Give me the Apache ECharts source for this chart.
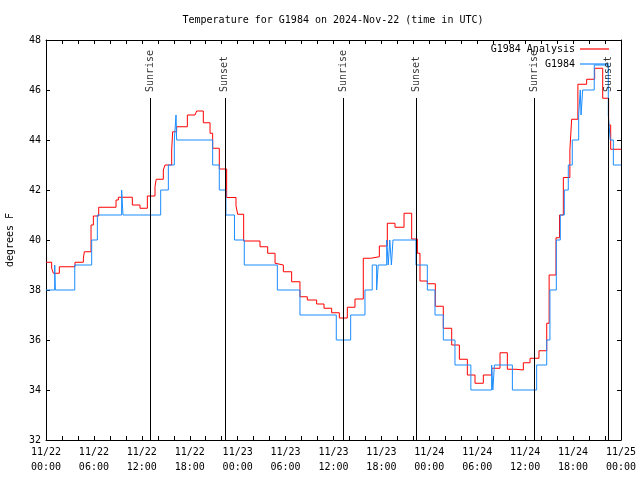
<!DOCTYPE html>
<html>
<head>
<meta charset="utf-8">
<script src="https://cdn.jsdelivr.net/npm/echarts@6/dist/echarts.min.js"></script>
<style>html,body{margin:0;padding:0;background:#fff;}#c{width:640px;height:480px;}</style>
</head>
<body>
<div id="c"></div>
<script>
// Time in hours since 2024-11-22 00:00 UTC
const xTickLabels = ['11/22\n00:00','11/22\n06:00','11/22\n12:00','11/22\n18:00','11/23\n00:00','11/23\n06:00','11/23\n12:00','11/23\n18:00','11/24\n00:00','11/24\n06:00','11/24\n12:00','11/24\n18:00','11/25\n00:00'];

const redTimes = [0,0.71,0.92,1.67,3.63,4.68,4.8,5.64,5.93,6.6,8.77,9.06,10.81,11.77,12.69,13.65,13.8,14.69,14.9,15.74,15.86,16.36,17.7,18.66,18.87,19.7,20.54,20.87,21.7,22.62,23.79,24.0,24.75,26.8,27.76,28.68,28.89,29.72,30.76,31.8,32.72,33.89,34.81,35.77,36.73,37.73,38.69,39.73,40.66,41.74,42.74,43.7,44.83,45.79,46.5,46.83,47.75,48.75,49.75,50.8,51.76,52.76,53.72,54.76,55.81,56.85,57.77,58.85,59.77,60.61,61.73,62.7,63.0,63.86,64.3,64.78,65.6,65.82,66.6,67.7,68.7,69.71,70.45,70.71,72];
const redTemps = [39.11,38.87,38.67,38.93,39.11,39.27,39.53,40.6,40.96,41.31,41.6,41.71,41.4,41.27,41.76,42.13,42.43,42.8,43.0,43.6,44.33,44.53,45.0,45.07,45.16,44.69,44.27,43.67,42.84,41.7,41.37,41.03,39.96,39.73,39.47,39.07,39.0,38.73,38.33,37.73,37.6,37.44,37.27,37.09,36.88,37.31,37.64,39.27,39.33,39.76,40.67,40.51,41.07,40.04,39.47,38.36,38.25,37.35,36.47,35.8,35.23,34.6,34.27,34.6,34.87,35.49,34.83,34.8,35.09,35.27,35.57,36.67,38.6,40.09,41.0,42.5,43.6,44.83,46.23,46.43,46.87,45.67,44.6,43.63,43.63];

const blueTimes = [0,1.09,1.17,3.6,5.72,6.43,9.47,9.64,14.36,15.32,16.07,16.28,16.36,20.87,21.7,22.53,23.6,24.83,28.97,31.8,36.35,38.15,39.94,40.85,41.4,41.6,42.66,42.85,43.05,43.25,43.45,46.33,47.75,48.71,49.75,51.21,53.2,55.8,55.95,56.15,58.4,61.44,62.7,63.1,63.9,64.4,64.9,65.4,65.9,66.7,66.9,67.0,67.2,68.65,70.41,70.65,71.04,72];
const blueTemps = [38,39,38,39,40,41,42,41,42,43,44,45,44,43,42,41,40,39,38,37,36,37,38,39,38,39,40,39,40,39,40,39,38,37,36,35,34,35,34,35,34,35,36,38,40,41,42,43,44,45,46,45,46,47,45,44,43,43];

const sunTimes = [13.03,22.4,37.18,46.35,61.1,70.37];
const sunLabels = ['Sunrise','Sunset','Sunrise','Sunset','Sunrise','Sunset'];
const sunLineTop = 45.68;

const FONT = 'DejaVu Sans Mono';
const chart = echarts.init(document.getElementById('c'), null, {renderer:'canvas'});

const xBase = {type:'value', min:0, max:72, interval:2,
  axisLine:{show:true, onZero:false, lineStyle:{color:'#000', width:1}},
  axisTick:{show:true, inside:true, length:4, lineStyle:{color:'#000'}},
  splitLine:{show:false}};
const yBase = {type:'value', min:32, max:48, interval:2,
  axisLine:{show:true, onZero:false, lineStyle:{color:'#000', width:1}},
  axisTick:{show:true, inside:true, length:4, lineStyle:{color:'#000'}},
  splitLine:{show:false}};

chart.setOption({
  animation:false,
  backgroundColor:'#fff',
  title:{text:'Temperature for G1984 on 2024-Nov-22 (time in UTC)', left:328, textAlign:'center', top:9,
    textStyle:{fontFamily:FONT, fontSize:10, fontWeight:'normal', color:'#000', lineHeight:12}},
  grid:{left:46, right:19, top:40, bottom:40, containLabel:false, outerBoundsMode:'none'},
  legend:[
    {data:['G1984 Analysis'], right:26, top:38, orient:'vertical', align:'right', icon:'rect', itemWidth:29, itemHeight:1.2, selectedMode:false,
      textStyle:{fontFamily:FONT, fontSize:10, color:'#000', lineHeight:12}},
    {data:['G1984'], right:26, top:53, orient:'vertical', align:'right', icon:'rect', itemWidth:29, itemHeight:1.2, selectedMode:false,
      textStyle:{fontFamily:FONT, fontSize:10, color:'#000', lineHeight:12}}
  ],
  xAxis:[
    Object.assign({}, xBase, {position:'bottom',
      axisLabel:{show:true, margin:5, fontFamily:FONT, fontSize:10, color:'#000', lineHeight:15,
        formatter:function(v){ return (v % 6 === 0) ? xTickLabels[v/6] : ''; }}}),
    Object.assign({}, xBase, {position:'top', axisLabel:{show:false}})
  ],
  yAxis:[
    Object.assign({}, yBase, {position:'left', name:'degrees F', nameLocation:'middle', nameGap:31, nameRotate:90,
      nameTextStyle:{fontFamily:FONT, fontSize:10, color:'#000'},
      axisLabel:{show:true, margin:5, fontFamily:FONT, fontSize:10, color:'#000'}}),
    Object.assign({}, yBase, {position:'right', axisLabel:{show:false}})
  ],
  series:[
    {name:'G1984 Analysis', type:'line', step:'end', showSymbol:false, symbol:'none', color:'#ff0000',
      lineStyle:{color:'#ff0000', width:1}, data:redTimes.map((t,i)=>[t, redTemps[i]]), z:2},
    {name:'G1984', type:'line', step:'end', showSymbol:false, symbol:'none', color:'#1a8cff',
      lineStyle:{color:'#1a8cff', width:1}, data:blueTimes.map((t,i)=>[t, blueTemps[i]]), z:3},
    {name:'sun', type:'scatter', symbolSize:0, silent:true, z:4,
      data:sunTimes.map((t,i)=>[t, sunLineTop, sunLabels[i]]),
      label:{show:true, position:'top', distance:6, rotate:90, align:'left', verticalAlign:'middle',
        fontFamily:FONT, fontSize:10, color:'#000', formatter:function(p){return p.data[2];}},
      markLine:{silent:true, symbol:['none','none'], label:{show:false},
        lineStyle:{color:'#000', width:1, type:'solid'},
        data:sunTimes.map(t=>[{coord:[t,32]},{coord:[t,sunLineTop]}])}}
  ]
});
</script>
</body>
</html>
